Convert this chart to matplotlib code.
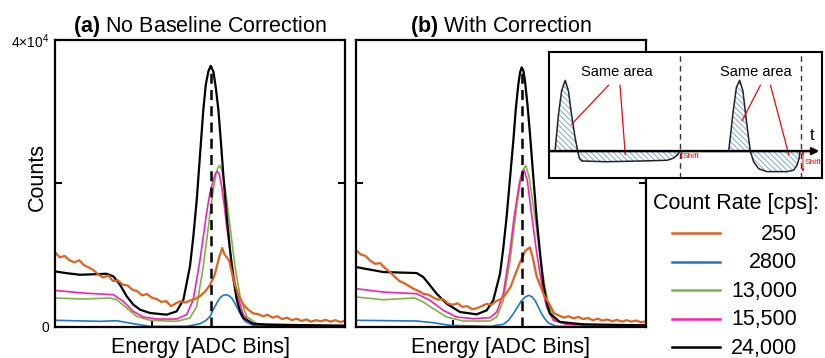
import matplotlib

matplotlib.use("Agg")

import matplotlib.pyplot as plt

plt.rcParams["font.family"] = ["Liberation Sans", "DejaVu Sans"]
plt.rcParams["mathtext.fontset"] = "custom"
plt.rcParams["mathtext.rm"] = "Liberation Sans"
plt.rcParams["mathtext.bf"] = "Liberation Sans:bold"
plt.rcParams["hatch.color"] = "#7aa7dc"
plt.rcParams["hatch.linewidth"] = 0.7

# count rates [cps] and their colours
RATES = ["250", "2800", "13,000", "15,500", "24,000"]
COLORS = ["#e2611f", "#1f77c8", "#7cb342", "#ff1eaa", "#000000"]
WIDTHS = [1.6, 1.2, 1.2, 1.2, 1.6]

# ---- panel (a): no baseline correction ----
a_orange_x = [0, 25, 50, 75, 100, 125, 150, 175, 200, 225, 250, 275, 300, 325,
              350, 375, 400, 425, 450, 475, 500, 525, 550, 575, 600, 625, 650,
              675, 700, 725, 750, 775, 800, 825, 850, 865, 875, 900, 925, 950,
              975, 1000, 1025, 1050, 1075, 1100, 1125, 1150, 1175, 1200, 1225,
              1250, 1275, 1300, 1325, 1350, 1375, 1400, 1425, 1450, 1475, 1500]
a_orange_y = [10400, 9700, 9900, 9300, 9000, 9300, 8600, 8300, 7900, 7300, 6900,
              7200, 6400, 6500, 5900, 5800, 5200, 5000, 4400, 4600, 4100, 3900,
              3500, 3600, 2900, 3300, 3600, 3400, 3700, 3900, 4300, 4900, 5800,
              7200, 9800, 11000, 10200, 9300, 6400, 4300, 3100, 2400, 1900, 1800,
              1500, 1700, 1300, 1500, 1100, 1300, 950, 1150, 850, 1050, 750, 950,
              800, 1000, 750, 950, 700, 850]
a_blue_x = [0, 233, 319, 405, 491, 681, 750, 780, 802, 820, 838, 853, 868, 884,
            900, 914, 930, 948, 965, 983, 1026, 1500]
a_blue_y = [930, 790, 880, 460, 90, 90, 460, 900, 1480, 2500, 3400, 4040, 4400,
            4500, 4350, 4040, 3300, 2410, 1500, 790, 190, 90]
a_green_x = [0, 147, 284, 319, 371, 422, 491, 629, 698, 733, 767, 785, 802, 818,
             833, 843, 853, 864, 874, 890, 905, 931, 957, 991, 1043, 1500]
a_green_y = [4040, 3900, 4040, 3800, 2645, 1480, 930, 790, 1250, 2880, 8450,
             12200, 15870, 19000, 21440, 22200, 22500, 21800, 20500, 17300,
             14000, 8450, 4270, 1480, 460, 90]
a_pink_x = [0, 147, 302, 353, 405, 457, 526, 629, 681, 715, 750, 784, 800, 819,
            830, 840, 850, 862, 875, 888, 914, 940, 974, 1009, 1095, 1500]
a_pink_y = [5100, 4730, 4500, 3570, 2180, 1390, 1110, 1110, 1720, 3800, 9370,
            15870, 18500, 20500, 21400, 21670, 21300, 19580, 17000, 14000, 8900,
            4730, 1720, 560, 230, 140]
a_black_x = [0, 60, 129, 200, 267, 302, 336, 371, 405, 440, 491, 578, 629, 664,
             698, 715, 733, 750, 767, 780, 793, 805, 819, 832, 845, 858, 871,
             888, 905, 922, 940, 957, 974, 1026, 1095, 1500]
a_black_y = [7750, 7500, 7280, 7350, 7420, 7050, 5900, 4270, 3110, 2410, 1950,
             1720, 2180, 3800, 8450, 12500, 17700, 24000, 30250, 33800, 35600,
             36400, 35600, 33300, 30250, 25800, 21000, 15500, 10800, 6800, 3800,
             2200, 1250, 460, 320, 190]
a_peak_x = 805
a_peak_top = 36400

# ---- panel (b): with correction ----
b_orange_x = [0, 25, 50, 75, 100, 125, 150, 175, 200, 225, 250, 275, 300, 325,
              350, 375, 400, 425, 450, 475, 500, 525, 550, 575, 600, 625, 650,
              675, 700, 725, 750, 775, 800, 825, 850, 875, 900, 915, 935, 950,
              975, 1000, 1025, 1050, 1075, 1100, 1125, 1150, 1175, 1200, 1225,
              1250, 1275, 1300, 1325, 1350, 1375, 1400, 1425, 1450, 1475, 1500]
b_orange_y = [10700, 10100, 9900, 9200, 8800, 8900, 8200, 7700, 7000, 6400, 6100,
              5700, 5300, 5000, 4600, 4500, 4100, 3800, 3900, 3300, 3100, 3300,
              2800, 2900, 2500, 2600, 2900, 3200, 3100, 3600, 3900, 4600, 5600,
              7400, 9100, 10600, 11100, 9600, 7000, 6000, 4300, 3200, 1900, 1600,
              1300, 1500, 1200, 1400, 1100, 1250, 950, 1150, 900, 1050, 800, 1000,
              750, 950, 750, 900, 650, 800]
b_blue_x = [0, 314, 400, 486, 693, 762, 788, 814, 838, 857, 876, 895, 910, 926,
            943, 960, 978, 995, 1038, 1500]
b_blue_y = [930, 835, 600, 230, 90, 370, 900, 1860, 2900, 3710, 4200, 4410, 4200,
            3710, 2800, 1860, 1100, 560, 90, 90]
b_green_x = [0, 141, 305, 348, 400, 469, 555, 693, 728, 762, 797, 814, 831, 848,
             862, 878, 896, 910, 926, 943, 960, 978, 995, 1029, 1090, 1500]
b_green_y = [4180, 3800, 4040, 3480, 2550, 1390, 835, 835, 1390, 3710, 9280,
             13000, 16700, 19800, 21810, 22500, 20880, 18200, 15310, 11800, 8350,
             5500, 3250, 930, 370, 140]
b_pink_x = [0, 141, 314, 383, 452, 521, 607, 693, 728, 762, 797, 814, 831, 845,
            857, 869, 886, 900, 917, 934, 952, 969, 986, 1021, 1090, 1500]
b_pink_y = [5340, 4870, 4640, 3710, 2320, 1390, 1160, 1300, 2090, 4640, 10670,
            14500, 17630, 20000, 21350, 21900, 20420, 17500, 13920, 10500, 7420,
            4800, 2780, 930, 370, 230]
b_black_x = [0, 141, 314, 348, 383, 417, 469, 538, 624, 676, 710, 745, 762, 779,
             797, 814, 827, 840, 849, 857, 866, 874, 887, 900, 917, 934, 952, 969,
             986, 1003, 1055, 1176, 1500]
b_black_y = [8350, 7660, 7520, 6960, 5800, 4640, 3250, 2090, 1760, 2320, 3710,
             7420, 11000, 15310, 20800, 25990, 30500, 33870, 35500, 36190, 35700,
             34340, 31000, 26910, 21000, 15310, 10300, 6030, 3500, 1860, 700, 370,
             230]
b_peak_x = 857
b_peak_top = 36000

# ---- inset: pulse schematic (time, amplitude) ----
p1_t = [2.2, 3.4, 4.6, 5.9, 7.1, 8.3, 9.5, 10.5, 11.1, 12.0, 21.1, 33.4, 43.2,
        45.6, 47.1, 47.8]
p1_s = [0.0, 0.5, 0.85, 1.0, 0.85, 0.5, 0.2, 0.0, -0.1, -0.14, -0.15, -0.14,
        -0.13, -0.1, -0.05, 0.0]
p2_t = [65.8, 67.4, 68.6, 69.8, 71.0, 72.2, 73.7, 74.9, 76.8, 79.8, 87.2, 89.6,
        90.8, 91.6, 91.9]
p2_s = [0.0, 0.55, 0.9, 1.0, 0.85, 0.45, 0.0, -0.15, -0.25, -0.29, -0.29, -0.27,
        -0.2, -0.1, 0.0]
reset_t = [47.8, 92.3]
shift_s = [-0.12, -0.29]


def style_axes(ax):
    ax.set_xlim(0, 1500)
    ax.set_ylim(0, 40000)
    for spine in ax.spines.values():
        spine.set_linewidth(1.6)
    ax.tick_params(direction="in", length=5, width=1.5, right=True, top=False,
                   labelsize=10, pad=4)
    ax.set_xticks([500])
    ax.set_xticklabels([])
    ax.set_xlabel("Energy [ADC Bins]", fontsize=15.5, labelpad=3)


def draw_panel(ax, series, peak_x, peak_top, title):
    # draw order: blue, green, pink, black, orange on top
    for i in [1, 2, 3, 4, 0]:
        x, y = series[i]
        ax.plot(x, y, color=COLORS[i], lw=WIDTHS[i])
    ax.plot([peak_x, peak_x], [0, peak_top], color="k", lw=1.8,
            dashes=(4, 2.5))
    ax.set_title(title, fontsize=15.5, pad=6)
    style_axes(ax)


fig = plt.figure(figsize=(8.25, 3.58), dpi=100)
ax_a = fig.add_axes([0.0667, 0.0866, 0.3515, 0.8017])
ax_b = fig.add_axes([0.4315, 0.0866, 0.3515, 0.8017])

draw_panel(ax_a,
           [(a_orange_x, a_orange_y), (a_blue_x, a_blue_y),
            (a_green_x, a_green_y), (a_pink_x, a_pink_y),
            (a_black_x, a_black_y)],
           a_peak_x, a_peak_top, r"$\bf{(a)}$ No Baseline Correction")
draw_panel(ax_b,
           [(b_orange_x, b_orange_y), (b_blue_x, b_blue_y),
            (b_green_x, b_green_y), (b_pink_x, b_pink_y),
            (b_black_x, b_black_y)],
           b_peak_x, b_peak_top, r"$\bf{(b)}$ With Correction")

ax_a.set_yticks([0, 20000, 40000])
ax_a.set_yticklabels(["0", "", r"4×10$^4$"])
ax_a.set_ylabel("Counts", fontsize=15.5)
ax_a.yaxis.set_label_coords(-0.026, 0.523)
ax_b.set_yticks([20000])
ax_b.set_yticklabels([])

# inset schematic
iax = fig.add_axes([0.6655, 0.5028, 0.331, 0.352], zorder=5)
iax.set_facecolor("white")
iax.set_xlim(0, 100)
iax.set_ylim(-0.38, 1.40)
iax.set_xticks([])
iax.set_yticks([])
for spine in iax.spines.values():
    spine.set_linewidth(1.5)

for t, s in [(p1_t, p1_s), (p2_t, p2_s)]:
    iax.fill_between(t, s, 0, facecolor="white", edgecolor="#7aa7dc",
                     hatch="\\" * 6, linewidth=0)
    iax.plot(t, s, color="#222222", lw=1.1)

for t in reset_t:
    iax.axvline(t, color="#333333", lw=1.0, dashes=(4, 3))

iax.annotate("", xy=(99, 0), xytext=(0, 0),
             arrowprops=dict(arrowstyle="-|>", color="k", lw=1.8,
                             mutation_scale=10, shrinkA=0, shrinkB=0))
iax.text(96.5, 0.12, "t", fontsize=12, ha="center", va="bottom")

for t, s in zip(reset_t, shift_s):
    iax.annotate("", xy=(t + 0.7, s), xytext=(t + 0.7, 0),
                 arrowprops=dict(arrowstyle="<|-|>", color="red", lw=0.7,
                                 mutation_scale=3, shrinkA=0, shrinkB=0))
    iax.text(t + 1.2, s / 2 - 0.02, "Shift", color="red", fontsize=6,
             ha="left", va="center")

iax.text(24.8, 1.12, "Same area", fontsize=10.5, ha="center", va="center")
iax.text(75.6, 1.12, "Same area", fontsize=10.5, ha="center", va="center")
red_lines = [((21.8, 8.3), (0.93, 0.38)), ((26.0, 27.9), (0.93, -0.05)),
             ((77.4, 70.7), (0.93, 0.43)), ((81.1, 87.8), (0.93, -0.05))]
for xs, ys in red_lines:
    iax.plot(xs, ys, color="red", lw=0.9)

# legend, drawn in figure pixel space
lax = fig.add_axes([0, 0, 1, 1], zorder=6)
lax.set_axis_off()
lax.set_xlim(0, 825)
lax.set_ylim(358, 0)
lax.text(653, 203, "Count Rate [cps]:", fontsize=15.5, ha="left", va="center")
for i, (rate, color) in enumerate(zip(RATES, COLORS)):
    row_y = 233 + i * 28.6
    lax.plot([672, 720], [row_y, row_y], color=color, lw=1.8)
    lax.text(797, row_y + 1, rate, fontsize=15.5, ha="right", va="center")

fig.savefig("out.png", dpi=100)
